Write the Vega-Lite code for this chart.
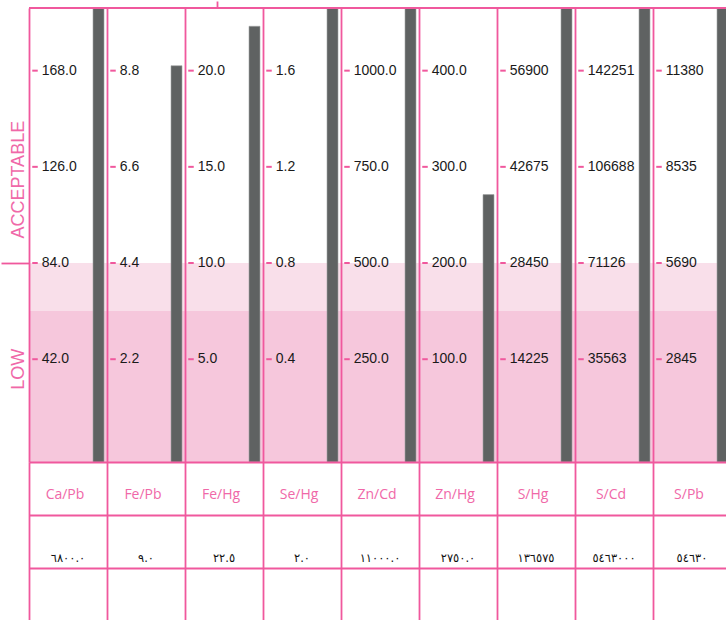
{
  "$schema": "https://vega.github.io/schema/vega-lite/v6.json",
  "padding": 0,
  "spacing": 0,
  "bounds": "flush",
  "background": "white",
  "config": {"view": {"stroke": null}},
  "datasets": {
    "cols": [
      {"name": "Ca/Pb", "level": 4.72, "ratio": "٦٨٠٠.٠"},
      {"name": "Fe/Pb", "level": 4.12, "ratio": "٩.٠"},
      {"name": "Fe/Hg", "level": 4.53, "ratio": "٢٢.٥"},
      {"name": "Se/Hg", "level": 4.72, "ratio": "٢.٠"},
      {"name": "Zn/Cd", "level": 4.72, "ratio": "١١٠٠٠.٠"},
      {"name": "Zn/Hg", "level": 2.78, "ratio": "٢٧٥٠.٠"},
      {"name": "S/Hg", "level": 4.72, "ratio": "١٣٦٥٧٥"},
      {"name": "S/Cd", "level": 4.72, "ratio": "٥٤٦٣٠٠٠"},
      {"name": "S/Pb", "level": 4.72, "ratio": "٥٤٦٣٠"}
    ],
    "ticks": [
      {"name": "Ca/Pb", "k": 1, "label": "42.0"}, {"name": "Ca/Pb", "k": 2, "label": "84.0"}, {"name": "Ca/Pb", "k": 3, "label": "126.0"}, {"name": "Ca/Pb", "k": 4, "label": "168.0"},
      {"name": "Fe/Pb", "k": 1, "label": "2.2"}, {"name": "Fe/Pb", "k": 2, "label": "4.4"}, {"name": "Fe/Pb", "k": 3, "label": "6.6"}, {"name": "Fe/Pb", "k": 4, "label": "8.8"},
      {"name": "Fe/Hg", "k": 1, "label": "5.0"}, {"name": "Fe/Hg", "k": 2, "label": "10.0"}, {"name": "Fe/Hg", "k": 3, "label": "15.0"}, {"name": "Fe/Hg", "k": 4, "label": "20.0"},
      {"name": "Se/Hg", "k": 1, "label": "0.4"}, {"name": "Se/Hg", "k": 2, "label": "0.8"}, {"name": "Se/Hg", "k": 3, "label": "1.2"}, {"name": "Se/Hg", "k": 4, "label": "1.6"},
      {"name": "Zn/Cd", "k": 1, "label": "250.0"}, {"name": "Zn/Cd", "k": 2, "label": "500.0"}, {"name": "Zn/Cd", "k": 3, "label": "750.0"}, {"name": "Zn/Cd", "k": 4, "label": "1000.0"},
      {"name": "Zn/Hg", "k": 1, "label": "100.0"}, {"name": "Zn/Hg", "k": 2, "label": "200.0"}, {"name": "Zn/Hg", "k": 3, "label": "300.0"}, {"name": "Zn/Hg", "k": 4, "label": "400.0"},
      {"name": "S/Hg", "k": 1, "label": "14225"}, {"name": "S/Hg", "k": 2, "label": "28450"}, {"name": "S/Hg", "k": 3, "label": "42675"}, {"name": "S/Hg", "k": 4, "label": "56900"},
      {"name": "S/Cd", "k": 1, "label": "35563"}, {"name": "S/Cd", "k": 2, "label": "71126"}, {"name": "S/Cd", "k": 3, "label": "106688"}, {"name": "S/Cd", "k": 4, "label": "142251"},
      {"name": "S/Pb", "k": 1, "label": "2845"}, {"name": "S/Pb", "k": 2, "label": "5690"}, {"name": "S/Pb", "k": 3, "label": "8535"}, {"name": "S/Pb", "k": 4, "label": "11380"}
    ],
    "bands": [
      {"zone": "border", "lo": 1.57, "hi": 2.07},
      {"zone": "low", "lo": 0, "hi": 1.57}
    ]
  },
  "vconcat": [
    {
      "width": 698,
      "height": 454,
      "resolve": {"axis": {"x": "independent", "y": "independent"}},
      "layer": [
        {
          "data": {"name": "bands"},
          "mark": {"type": "rect"},
          "encoding": {
            "y": {"field": "lo", "type": "quantitative", "axis": null},
            "y2": {"field": "hi"},
            "color": {"field": "zone", "type": "nominal", "scale": {"domain": ["border", "low"], "range": ["#f9dfea", "#f6c7dc"]}, "legend": null}
          }
        },
        {
          "data": {"name": "cols"},
          "mark": {"type": "bar", "width": 11, "xOffset": 30.5, "clip": true, "fill": "#5f6262", "stroke": "#a3a5a5", "strokeWidth": 0.6},
          "encoding": {
            "x": {
              "field": "name", "type": "nominal",
              "scale": {"type": "band", "domain": ["Ca/Pb", "Fe/Pb", "Fe/Hg", "Se/Hg", "Zn/Cd", "Zn/Hg", "S/Hg", "S/Cd", "S/Pb"], "range": [0, 702], "paddingInner": 0, "paddingOuter": 0},
              "axis": {"orient": "top", "title": null, "domain": false, "labels": false, "grid": false, "ticks": true, "tickSize": 7, "tickWidth": 1.8, "tickColor": "#f0589d", "bandPosition": 0, "tickOffset": 32, "tickOpacity": {"condition": {"test": "datum.value === 'Fe/Hg'", "value": 1}, "value": 0}}
            },
            "y": {
              "field": "level", "type": "quantitative",
              "scale": {"domain": [0, 4.72], "nice": false, "zero": true},
              "axis": {"orient": "left", "title": null, "values": [0.97, 2.07, 2.94], "domain": false, "grid": false, "ticks": true, "tickSize": 28, "tickWidth": 1.8, "tickColor": "#f0589d", "tickOpacity": {"condition": {"test": "datum.value > 2 && datum.value < 2.5", "value": 1}, "value": 0}, "labelExpr": "datum.value < 1.5 ? 'LOW' : (datum.value > 2.5 ? 'ACCEPTABLE' : '')", "labelAngle": -90, "labelAlign": "center", "labelBaseline": "middle", "labelPadding": -17, "labelFont": "Liberation Sans", "labelFontSize": 18, "labelColor": "#f068a8", "labelOverlap": false, "labelFlush": false, "labelBound": false, "minExtent": 28, "maxExtent": 28}
            }
          }
        },
        {
          "data": {"name": "ticks"},
          "mark": {"type": "tick", "orient": "horizontal", "size": 5.5, "thickness": 2, "color": "#f0589d", "opacity": 1, "xOffset": -33, "yOffset": -6.6},
          "encoding": {
            "x": {"field": "name", "type": "nominal", "axis": {"orient": "bottom", "title": null, "domain": false, "ticks": false, "labels": false, "grid": true, "gridColor": "#f0589d", "gridWidth": 1.8, "gridOpacity": 1, "bandPosition": 0, "zindex": 1}},
            "y": {"field": "k", "type": "quantitative", "axis": null}
          }
        },
        {
          "data": {"name": "ticks"},
          "mark": {"type": "text", "align": "left", "baseline": "middle", "xOffset": -26.3, "yOffset": -6.6, "font": "Liberation Sans", "fontSize": 14, "color": "#1a1a1a"},
          "encoding": {
            "x": {"field": "name", "type": "nominal", "axis": null},
            "y": {"field": "k", "type": "quantitative", "axis": null},
            "text": {"field": "label"}
          }
        },
        {
          "data": {"values": [{"line": "top"}]},
          "mark": {"type": "rule", "color": "#f0589d", "strokeWidth": 1.8},
          "encoding": {
            "y": {"datum": 4.72, "type": "quantitative", "axis": null}
          }
        }
      ]
    },
    {
      "width": 698,
      "height": 159,
      "data": {"name": "cols"},
      "resolve": {"axis": {"x": "independent", "y": "independent"}},
      "layer": [
        {
          "mark": {"type": "text", "font": "Open Sans", "fontSize": 14, "color": "#f068a8", "baseline": "middle", "dy": 6.5, "xOffset": -3},
          "encoding": {
            "x": {
              "field": "name", "type": "nominal",
              "scale": {"type": "band", "domain": ["Ca/Pb", "Fe/Pb", "Fe/Hg", "Se/Hg", "Zn/Cd", "Zn/Hg", "S/Hg", "S/Cd", "S/Pb"], "range": [0, 702], "paddingInner": 0, "paddingOuter": 0},
              "axis": {"orient": "bottom", "title": null, "domain": false, "ticks": false, "labels": false, "grid": true, "gridColor": "#f0589d", "gridWidth": 1.8, "gridOpacity": 1, "bandPosition": 0, "zindex": 1}
            },
            "y": {
              "datum": "pair", "type": "nominal",
              "scale": {"type": "band", "domain": ["pair", "ratio", "blank"], "paddingInner": 0, "paddingOuter": 0},
              "axis": {"orient": "left", "title": null, "domain": false, "ticks": false, "labels": false, "grid": true, "gridColor": "#f0589d", "gridWidth": 1.8, "gridOpacity": 1, "bandPosition": 0, "zindex": 1, "minExtent": 0, "maxExtent": 0}
            },
            "text": {"field": "name"}
          }
        },
        {
          "mark": {"type": "text", "font": "DejaVu Sans", "fontSize": 11.5, "color": "#111111", "baseline": "middle", "dy": 17.5},
          "encoding": {
            "x": {"field": "name", "type": "nominal", "axis": null},
            "y": {"datum": "ratio", "type": "nominal", "axis": null},
            "text": {"field": "ratio"}
          }
        }
      ]
    }
  ]
}
